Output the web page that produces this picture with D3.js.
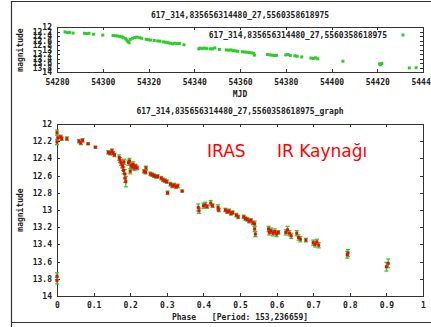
<!DOCTYPE html>
<html>
<head>
<meta charset="utf-8">
<script src="https://cdn.jsdelivr.net/npm/d3@7"></script>
<style>
  html, body { margin: 0; padding: 0; background: #fff; }
  svg { display: block; }
  .tick text, .lbl { font-family: "DejaVu Sans Mono", monospace; font-weight: bold; font-size: 8px; fill: #222; }
</style>
</head>
<body>
<svg id="chart" width="431" height="327"></svg>
<script>
// Star light curve: magnitude against MJD, then folded by period.
const starName = "617_314,835656314480_27,5560358618975";
const periodText = "[Period: 153,236659]";
const noteLeft = "IRAS";
const noteRight = "IR Kaynağı";

// Time series: [MJD, magnitude, error]
const mjdSeries = [
  [54283.5,12.22,0.02],[54284.5,12.25,0.02],[54285.5,12.24,0.02],[54287,12.27,0.02],
  [54292,12.28,0.02],[54293,12.29,0.02],[54294,12.28,0.02],[54296,12.32,0.02],[54300,12.36,0.02],
  [54304.5,12.38,0.02],[54305.5,12.39,0.02],[54306.5,12.40,0.02],[54307.5,12.42,0.02],[54308.5,12.44,0.03],
  [54309,12.48,0.03],[54310,12.52,0.04],[54310.5,12.58,0.05],[54311,12.64,0.06],[54311.5,12.70,0.05],[54312,12.55,0.04],
  [54313,12.50,0.03],[54314,12.47,0.03],[54315,12.45,0.03],[54316,12.48,0.02],[54317,12.50,0.02],
  [54319,12.55,0.02],[54320,12.57,0.02],[54321,12.58,0.02],[54322.5,12.60,0.02],[54324,12.62,0.02],[54325,12.63,0.02],
  [54326.5,12.66,0.02],[54327.5,12.68,0.02],[54328.5,12.70,0.02],[54329.5,12.72,0.02],[54330.5,12.75,0.02],
  [54331.5,12.72,0.02],[54332.5,12.74,0.02],[54333.5,12.73,0.02],[54335.5,12.79,0.01],
  [54342,12.97,0.04],[54342.5,12.94,0.03],[54343.5,12.95,0.03],[54344.5,12.94,0.03],[54345.5,12.96,0.02],
  [54347,12.97,0.02],[54348,12.97,0.02],[54349,12.93,0.03],[54351,13.00,0.02],
  [54354,13.02,0.02],[54355,13.03,0.02],[54356,13.02,0.02],[54357,13.05,0.02],[54358,13.06,0.02],[54359,13.08,0.02],
  [54361,13.10,0.02],[54362,13.11,0.02],[54363,13.12,0.02],[54364,13.13,0.02],[54365,13.15,0.03],[54366,13.17,0.03],[54366.3,13.25,0.03],
  [54372,13.22,0.03],[54373,13.24,0.03],[54374,13.25,0.03],[54375,13.27,0.03],[54376,13.26,0.02],
  [54380,13.24,0.03],[54381,13.22,0.04],[54382,13.27,0.03],[54384,13.28,0.03],[54385,13.30,0.03],[54387,13.33,0.02],
  [54391,13.38,0.03],[54392,13.40,0.03],[54393,13.37,0.03],[54394,13.41,0.03],
  [54405,13.52,0.04],
  [54421,13.64,0.05],[54421.5,13.68,0.05],[54422,13.62,0.05],
  [54434,13.82,0.02],[54437,13.81,0.03]
];

// Folded curve: [phase, magnitude, error]
const phaseSeries = [
  [0.000,12.10,0.03],[0.002,12.16,0.03],[0.000,12.21,0.03],[0.010,12.15,0.02],[0.013,12.17,0.02],[0.027,12.17,0.02],
  [0.000,13.77,0.04],[0.000,13.82,0.04],
  [0.060,12.20,0.02],[0.065,12.22,0.02],[0.070,12.19,0.02],[0.085,12.23,0.01],[0.105,12.27,0.01],
  [0.140,12.33,0.02],[0.145,12.34,0.02],[0.150,12.31,0.02],[0.153,12.34,0.02],[0.157,12.36,0.02],
  [0.170,12.39,0.03],[0.172,12.42,0.03],[0.175,12.45,0.03],[0.178,12.48,0.03],[0.180,12.50,0.04],
  [0.182,12.54,0.04],[0.185,12.58,0.05],[0.186,12.63,0.05],[0.188,12.67,0.06],[0.183,12.44,0.03],
  [0.195,12.45,0.03],[0.198,12.43,0.03],[0.202,12.48,0.03],[0.205,12.50,0.03],[0.208,12.47,0.03],
  [0.212,12.51,0.03],[0.215,12.49,0.02],[0.219,12.51,0.02],[0.200,12.55,0.03],
  [0.238,12.55,0.02],[0.242,12.56,0.02],[0.243,12.51,0.02],
  [0.255,12.58,0.02],[0.260,12.59,0.02],[0.265,12.60,0.02],[0.270,12.61,0.02],[0.275,12.61,0.02],
  [0.285,12.63,0.02],[0.290,12.65,0.02],[0.295,12.66,0.02],[0.300,12.67,0.02],[0.302,12.80,0.02],
  [0.310,12.70,0.02],[0.315,12.72,0.02],[0.320,12.71,0.02],[0.325,12.73,0.02],[0.330,12.72,0.02],
  [0.342,12.78,0.01],
  [0.386,12.97,0.04],[0.388,13.01,0.03],[0.400,12.95,0.03],[0.405,12.94,0.03],[0.410,12.96,0.02],
  [0.420,12.92,0.03],[0.425,12.95,0.02],[0.440,12.97,0.03],[0.442,13.00,0.02],
  [0.460,13.00,0.02],[0.465,13.02,0.02],[0.470,13.01,0.02],[0.475,13.04,0.02],[0.480,13.03,0.02],
  [0.490,13.06,0.02],[0.495,13.08,0.02],
  [0.510,13.08,0.02],[0.515,13.10,0.02],[0.520,13.11,0.02],[0.525,13.13,0.02],[0.530,13.12,0.02],
  [0.535,13.15,0.02],[0.540,13.16,0.03],[0.540,13.22,0.03],[0.542,13.28,0.03],
  [0.578,13.22,0.03],[0.580,13.26,0.03],[0.585,13.24,0.03],[0.590,13.27,0.03],[0.595,13.25,0.03],
  [0.600,13.28,0.03],[0.605,13.26,0.02],
  [0.625,13.26,0.03],[0.630,13.23,0.04],[0.635,13.27,0.03],[0.640,13.30,0.03],
  [0.655,13.27,0.03],[0.660,13.32,0.03],[0.665,13.34,0.03],[0.680,13.35,0.02],
  [0.700,13.38,0.03],[0.705,13.40,0.03],[0.710,13.37,0.03],[0.715,13.41,0.03],
  [0.795,13.50,0.04],[0.793,13.52,0.04],
  [0.900,13.66,0.05],[0.905,13.62,0.05]
];

const mjdTicks = [54280,54300,54320,54340,54360,54380,54400,54420,54440];
const magTicks = [12,12.2,12.4,12.6,12.8,13,13.2,13.4,13.6,13.8,14];
const phaseTicks = [0,0.1,0.2,0.3,0.4,0.5,0.6,0.7,0.8,0.9,1];

const svg = d3.select("#chart");
const frameColor = "#333";
const green = "#2ccc2c", blue = "#3a8cff", red = "#ff0000";

// outer frame
svg.append("path").attr("d", "M11.5,327 V1.5 H431 M11.5,322.5 H431")
  .attr("fill", "none").attr("stroke", frameColor).attr("stroke-width", 1.2);

function panel(opts) {
  const { x, y, xTicks, xFmt, xPad } = opts;
  const g = svg.append("g");
  const [x0, x1] = x.range(), [y1, y0] = y.range();
  // axes with inward ticks, mirrored
  g.append("g").attr("transform", `translate(0,${y0})`)
    .call(d3.axisBottom(x).tickValues(xTicks).tickFormat(xFmt).tickSize(-3).tickPadding(xPad));
  g.append("g").attr("transform", `translate(0,${y1})`)
    .call(d3.axisTop(x).tickValues(xTicks).tickFormat("").tickSize(-3));
  g.append("g").attr("transform", `translate(${x0},0)`)
    .call(d3.axisLeft(y).tickValues(magTicks).tickFormat(d3.format("")).tickSize(-3).tickPadding(5));
  g.append("g").attr("transform", `translate(${x1},0)`)
    .call(d3.axisRight(y).tickValues(magTicks).tickFormat("").tickSize(-3));
  g.selectAll(".domain").remove();
  g.selectAll(".tick line").attr("stroke", frameColor).attr("shape-rendering", "crispEdges");
  g.selectAll(".tick text").attr("font-family", null).attr("font-size", null).attr("fill", null);
  g.append("rect").attr("x", x0 + 0.5).attr("y", y1 + 0.5)
    .attr("width", x1 - x0).attr("height", y0 - y1)
    .attr("fill", "none").attr("stroke", frameColor).attr("shape-rendering", "crispEdges");
  return g;
}

// ---- upper panel: magnitude vs MJD ----
const xT = d3.scaleLinear().domain([54280, 54440]).range([57, 423]);
const yT = d3.scaleLinear().domain([12, 14]).range([27, 72]);
const gT = panel({ x: xT, y: yT, xTicks: mjdTicks, xFmt: d3.format("d"), xPad: 7 });

const errT = gT.append("g").attr("stroke", blue).attr("stroke-width", 1.6);
errT.selectAll("line").data(mjdSeries).join("line")
  .attr("x1", d => xT(d[0])).attr("x2", d => xT(d[0]))
  .attr("y1", d => yT(d[1] - d[2])).attr("y2", d => yT(d[1] + d[2]));
gT.append("g").selectAll("rect").data(mjdSeries).join("rect")
  .attr("x", d => xT(d[0]) - 1.5).attr("y", d => yT(d[1]) - 1.5)
  .attr("width", 3).attr("height", 3).attr("fill", green);

// key
svg.append("text").attr("class", "lbl").attr("x", 387).attr("y", 38)
  .attr("text-anchor", "end").text(starName);
svg.append("rect").attr("x", 401.5).attr("y", 33.5).attr("width", 3).attr("height", 3).attr("fill", green);

svg.append("text").attr("class", "lbl").attr("x", 240).attr("y", 18)
  .attr("text-anchor", "middle").text(starName);
svg.append("text").attr("class", "lbl").attr("x", 240).attr("y", 97)
  .attr("text-anchor", "middle").text("MJD");
svg.append("text").attr("class", "lbl").attr("transform", "translate(23,50) rotate(-90)")
  .attr("text-anchor", "middle").text("magnitude");

// ---- lower panel: folded light curve ----
const xB = d3.scaleLinear().domain([0, 1]).range([57, 423]);
const yB = d3.scaleLinear().domain([12, 14]).range([124, 296]);
const gB = panel({ x: xB, y: yB, xTicks: phaseTicks, xFmt: d3.format(""), xPad: 6 });

const errB = gB.append("g").attr("stroke", green).attr("stroke-width", 1.3);
phaseSeries.forEach(d => {
  const px = xB(d[0]), ya = yB(d[1] - d[2]), yb = yB(d[1] + d[2]);
  errB.append("line").attr("x1", px).attr("x2", px).attr("y1", ya).attr("y2", yb);
  errB.append("line").attr("x1", px - 2).attr("x2", px + 2).attr("y1", ya).attr("y2", ya);
  errB.append("line").attr("x1", px - 2).attr("x2", px + 2).attr("y1", yb).attr("y2", yb);
});
gB.append("g").selectAll("rect").data(phaseSeries).join("rect")
  .attr("x", d => xB(d[0]) - 1.5).attr("y", d => yB(d[1]) - 1.5)
  .attr("width", 3).attr("height", 3).attr("fill", red);

svg.append("text").attr("class", "lbl").attr("x", 240).attr("y", 114)
  .attr("text-anchor", "middle").text(starName + "_graph");
svg.append("text").attr("class", "lbl").attr("x", 184).attr("y", 320)
  .attr("text-anchor", "middle").text("Phase");
svg.append("text").attr("class", "lbl").attr("x", 260).attr("y", 320)
  .attr("text-anchor", "middle").text(periodText);
svg.append("text").attr("class", "lbl").attr("transform", "translate(23,210) rotate(-90)")
  .attr("text-anchor", "middle").text("magnitude");

// annotations
const note = { "font-family": "DejaVu Sans, sans-serif", "font-size": "17px", "fill": red };
const t1 = svg.append("text").attr("x", 207).attr("y", 157).text(noteLeft);
const t2 = svg.append("text").attr("x", 277).attr("y", 157).text(noteRight);
[t1, t2].forEach(t => Object.entries(note).forEach(([k, v]) => t.attr(k, v)));
</script>
</body>
</html>
